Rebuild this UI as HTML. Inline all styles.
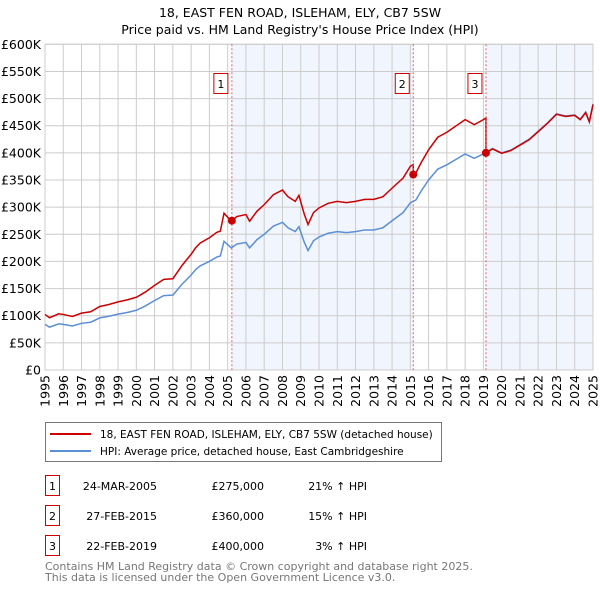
<!DOCTYPE html>
<html><head><meta charset="utf-8"><style>
body{margin:0;background:#fff;font-family:"Liberation Sans","DejaVu Sans",sans-serif}
svg text{font-family:"DejaVu Sans","Liberation Sans",sans-serif}
</style></head><body>
<svg id="c" width="600" height="590" xmlns="http://www.w3.org/2000/svg">
<text x="300" y="17" font-size="12.5" text-anchor="middle">18, EAST FEN ROAD, ISLEHAM, ELY, CB7 5SW</text>
<text x="300" y="34" font-size="12.5" text-anchor="middle">Price paid vs. HM Land Registry's House Price Index (HPI)</text>
<g id="plot"></g>
<rect x="45.5" y="422.5" width="396" height="39" fill="#fff" stroke="#777"/>
<line x1="50" y1="434" x2="91" y2="434" stroke="#cc0000" stroke-width="2"/>
<text x="100" y="438" font-size="10.5">18, EAST FEN ROAD, ISLEHAM, ELY, CB7 5SW (detached house)</text>
<line x1="50" y1="451" x2="91" y2="451" stroke="#5b8fd4" stroke-width="2"/>
<text x="100" y="455" font-size="10.5">HPI: Average price, detached house, East Cambridgeshire</text>
<g id="tbl" font-size="11"></g>
<text x="45" y="570" font-size="11" fill="#777">Contains HM Land Registry data © Crown copyright and database right 2025.</text>
<text x="45" y="581" font-size="11" fill="#777">This data is licensed under the Open Government Licence v3.0.</text>
</svg>
<script>
const years=[1995,1995.25,1995.5,1995.75,1996,1996.5,1997,1997.5,1998,1998.5,1999,1999.5,2000,2000.5,2001,2001.5,2002,2002.5,2003,2003.25,2003.5,2004,2004.4,2004.6,2004.8,2005.2,2005.5,2006,2006.2,2006.6,2007,2007.5,2008,2008.3,2008.7,2008.9,2009.2,2009.4,2009.7,2010,2010.5,2011,2011.5,2012,2012.5,2013,2013.5,2014,2014.6,2015,2015.3,2015.6,2016,2016.5,2017,2017.5,2018,2018.5,2019,2019.5,2020,2020.5,2021,2021.5,2022,2022.5,2023,2023.5,2024,2024.3,2024.6,2024.8,2025];
const hpi=[84,79,82,85,84,81,86,88,96,99,103,106,110,118,128,137,138,158,175,185,192,200,208,210,237,225,232,235,225,240,250,265,272,262,255,264,235,220,238,245,252,255,253,255,258,258,262,275,290,308,313,330,350,370,378,388,398,390,398,408,400,405,415,425,440,455,472,468,470,462,475,458,490];
const saleDates=[2005.23,2015.16,2019.14];
const salePrices=[275000,360000,400000];
const saleLabels=["24-MAR-2005","27-FEB-2015","22-FEB-2019"];
const salePriceText=["£275,000","£360,000","£400,000"];
const saleHpiText=["21% ↑ HPI","15% ↑ HPI","3% ↑ HPI"];
const yTicks=[0,50,100,150,200,250,300,350,400,450,500,550,600];
const yTickLabels=["£0","£50K","£100K","£150K","£200K","£250K","£300K","£350K","£400K","£450K","£500K","£550K","£600K"];
const xTicks=[1995,1996,1997,1998,1999,2000,2001,2002,2003,2004,2005,2006,2007,2008,2009,2010,2011,2012,2013,2014,2015,2016,2017,2018,2019,2020,2021,2022,2023,2024,2025];

const NS="http://www.w3.org/2000/svg";
const L=45,R=593,T=44.3,B=370;
const X=y=>L+(y-1995)/30*(R-L);
const Y=v=>B-v/600*(B-T);
const P=document.getElementById('plot');
function mk(tag,a,par){const e=document.createElementNS(NS,tag);for(const k in a)e.setAttribute(k,a[k]);(par||P).appendChild(e);return e;}
function hpiAt(t){for(let i=1;i<years.length;i++){if(t<=years[i]){const f=(t-years[i-1])/(years[i]-years[i-1]);return hpi[i-1]+f*(hpi[i]-hpi[i-1]);}}return hpi[hpi.length-1];}
const sh1=mk('rect',{x:X(saleDates[0]),y:T,width:X(saleDates[1])-X(saleDates[0]),height:B-T,fill:'#eef2fc',opacity:0.8});


const sh2=mk('rect',{x:X(saleDates[2]),y:T,width:R-X(saleDates[2]),height:B-T,fill:'#eef2fc',opacity:0.8});


yTicks.forEach((v,i)=>{
 const g=mk('line',{x1:L,x2:R,y1:Y(v),y2:Y(v),stroke:'#ccc','stroke-width':1});
 
 
 const t=mk('text',{x:L-4,y:Y(v)+4.5,'text-anchor':'end','font-size':12.5});
 
 
 t.textContent=yTickLabels[i];
});
xTicks.forEach(yr=>{
 const g=mk('line',{x1:X(yr),x2:X(yr),y1:T,y2:B,stroke:'#ccc','stroke-width':1});
 
 
 const t=mk('text',{x:0,y:0,'text-anchor':'end','font-size':12.5,transform:`translate(${X(yr)+4.5},${B+5}) rotate(-90)`});
 
 
 t.textContent=yr;
});
const fr=mk('rect',{x:L,y:T,width:R-L,height:B-T,fill:'none',stroke:'#ccc'});


const hp=mk('polyline',{points:years.map((y,i)=>X(y)+','+Y(hpi[i])).join(' '),fill:'none',stroke:'#5b8fd4','stroke-width':1.5});


const ratios=saleDates.map((d,i)=>salePrices[i]/1000/hpiAt(d));
const pts=[];
function ratioAt(t){let r=ratios[0];for(let i=0;i<saleDates.length;i++)if(t>=saleDates[i])r=ratios[i];return r;}
const allT=years.concat(saleDates.flatMap(d=>[d-0.001,d])).sort((a,b)=>a-b);
allT.forEach(t=>pts.push(X(t)+','+Y(hpiAt(t)*ratioAt(t))));
const rl=mk('polyline',{points:pts.join(' '),fill:'none',stroke:'#cc0000','stroke-width':1.5});


saleDates.forEach((d,i)=>{
 const vl=mk('line',{x1:X(d),x2:X(d),y1:T,y2:B,stroke:'#e06060','stroke-dasharray':'2,2','stroke-width':1});
 
 
 const c=mk('circle',{cx:X(d),cy:Y(salePrices[i]/1000),r:4,fill:'#cc0000'});
 
 
 const b=mk('rect',{x:X(d)-18,y:73.5,width:14,height:20,fill:'#fff',stroke:'#cc0000'});
 
 
 const t=mk('text',{x:X(d)-11,y:88,'text-anchor':'middle','font-size':11});
 
 
 t.textContent=i+1;
});
const TB=document.getElementById('tbl');
saleDates.forEach((d,i)=>{
 const y0=475+i*30;
 const b=mk('rect',{x:45.5,y:y0+0.5,width:14,height:20,fill:'#fff',stroke:'#cc0000'},TB);
 
 
 const cells=[[52.5,'middle',String(i+1)],[157,'end',saleLabels[i]],[264,'end',salePriceText[i]],[367,'end',saleHpiText[i]]];
 cells.forEach((c,j)=>{
  const t=mk('text',{x:c[0],y:y0+15,'text-anchor':c[1]},TB);
  
  
  t.textContent=c[2];
 });
});
</script>
</body></html>
